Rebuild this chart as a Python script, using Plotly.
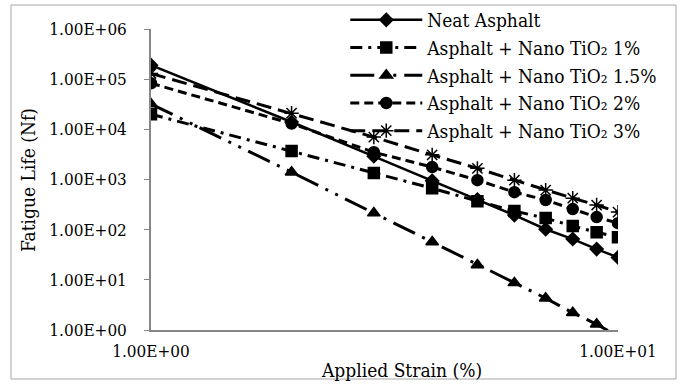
import plotly.graph_objects as go

# Data
strain = [1, 2, 3, 4, 5, 6, 7, 8, 9, 10]
neat = [1.9e5, 1.4e4, 2.9e3, 9.4e2, 4.0e2, 1.95e2, 1.02e2, 65, 41, 28]
tio2_1 = [2.0e4, 3.7e3, 1.34e3, 6.7e2, 3.7e2, 2.35e2, 1.7e2, 1.18e2, 89, 71]
tio2_15 = [3.2e4, 1.4e3, 2.14e2, 57, 19.7, 8.7, 4.3, 2.2, 1.3, 0.75]
tio2_2 = [8.3e4, 1.3e4, 3.5e3, 1.77e3, 9.7e2, 5.6e2, 3.9e2, 2.57e2, 1.78e2, 1.35e2]
tio2_3 = [1.3e5, 2.1e4, 7.0e3, 3.1e3, 1.67e3, 9.7e2, 6.15e2, 4.25e2, 3.1e2, 2.24e2]

series_names = [
    "Neat Asphalt",
    "Asphalt + Nano TiO\u2082 1%",
    "Asphalt + Nano TiO\u2082 1.5%",
    "Asphalt + Nano TiO\u2082 2%",
    "Asphalt + Nano TiO\u2082 3%",
]
x_tickvals = [1, 10]
x_ticktext = ["1.00E+00", "1.00E+01"]
y_tickvals = [1, 10, 100, 1e3, 1e4, 1e5, 1e6]
y_ticktext = ["1.00E+00", "1.00E+01", "1.00E+02", "1.00E+03", "1.00E+04", "1.00E+05", "1.00E+06"]

FONT = "DejaVu Serif Condensed, DejaVu Serif"
FS_TICK = 17
FS_TEXT = 19
fig = go.Figure()

styles = [
    (neat, "solid", 2.5, "diamond", 10),
    (tio2_1, "12px,6px,3px,6px", 3, "square", 11),
    (tio2_15, "24px,8px,3px,8px,3px,8px", 3, "triangle-up", 11),
    (tio2_2, "9px,5px", 3, "circle", 11),
    (tio2_3, "15px,7px", 3, "asterisk-open", 12),
]
for i, (name, (vals, dash, lw, sym, ms)) in enumerate(zip(series_names, styles)):
    fig.add_trace(go.Scatter(
        x=strain, y=vals, name=name, mode="lines+markers",
        legendgroup="g%d" % i,
        line=dict(color="black", width=lw, dash=dash),
        marker=dict(symbol=sym, size=ms, color="black",
                    line=dict(color="black", width=1.5)),
        cliponaxis=True,
    ))

axis_color = "#868686"
fig.update_layout(
    width=686, height=385,
    margin=dict(l=151, r=68, t=29, b=55, autoexpand=False),
    paper_bgcolor="white", plot_bgcolor="white",
    font=dict(family=FONT, size=FS_TEXT, color="black"),
    showlegend=True,
    legend=dict(x=0.416, y=1.093, xanchor="left", yanchor="top",
                bgcolor="rgba(0,0,0,0)", itemwidth=72,
                traceorder="grouped", tracegroupgap=0,
                font=dict(family=FONT, size=FS_TEXT, color="black")),
    xaxis=dict(type="log", range=[0, 1], tickvals=x_tickvals, ticktext=x_ticktext,
               showline=True, linecolor=axis_color, linewidth=1.5,
               ticks="inside", ticklen=5, tickcolor=axis_color,
               showgrid=False, zeroline=False, ticklabelstandoff=5,
               tickfont=dict(family=FONT, size=FS_TICK, color="black")),
    yaxis=dict(type="log", range=[0, 6], tickvals=y_tickvals, ticktext=y_ticktext,
               showline=True, linecolor=axis_color, linewidth=1.5,
               ticks="outside", ticklen=5, tickcolor=axis_color,
               showgrid=False, zeroline=False, ticklabelstandoff=14,
               tickfont=dict(family=FONT, size=FS_TICK, color="black")),
    annotations=[
        dict(text="Applied Strain (%)", xref="paper", yref="paper",
             x=(401 - 151) / 467, y=(330 - 370) / 301, xanchor="center", yanchor="middle",
             showarrow=False, font=dict(family=FONT, size=FS_TEXT, color="black")),
        dict(text="Fatigue Life (Nf)", xref="paper", yref="paper",
             x=(28 - 151) / 467, y=(330 - 180) / 301, xanchor="center", yanchor="middle",
             textangle=-90, showarrow=False, font=dict(family=FONT, size=FS_TEXT, color="black")),
    ],
    shapes=[
        dict(type="rect", xref="paper", yref="paper",
             x0=(11 - 151) / 467, x1=(676 - 151) / 467,
             y0=(330 - 379) / 301, y1=(330 - 5) / 301,
             line=dict(color="#a6a6a6", width=1), fillcolor="rgba(0,0,0,0)", layer="below"),
    ],
)

fig.write_html("out.html")
